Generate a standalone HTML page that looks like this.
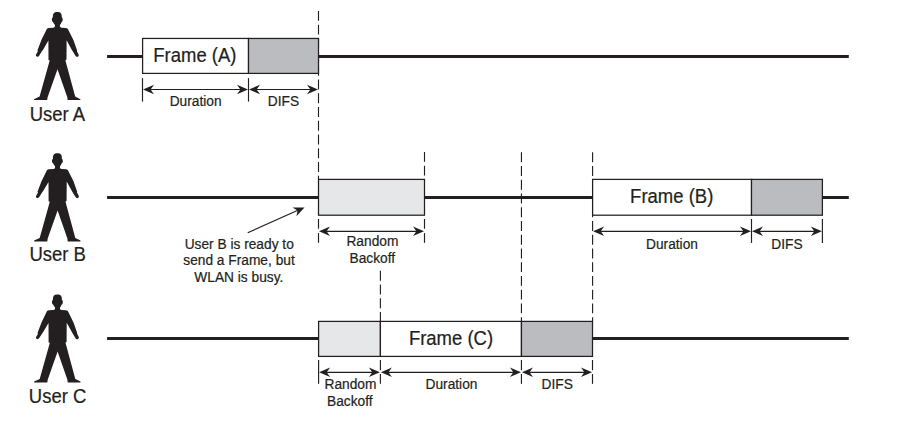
<!DOCTYPE html>
<html>
<head>
<meta charset="utf-8">
<title>CSMA/CA DCF timing</title>
<style>
html,body{margin:0;padding:0;background:#fff;}
body{width:905px;height:422px;overflow:hidden;font-family:"Liberation Sans",sans-serif;}
svg{display:block;}
text{font-family:"Liberation Sans",sans-serif;fill:#231f20;stroke:#231f20;stroke-width:0.2px;}
.big{font-size:18.5px;}
.sm{font-size:13.75px;}
.ln{stroke:#231f20;stroke-width:3;fill:none;}
.th{stroke:#231f20;stroke-width:1.15;fill:none;}
.ds{stroke:#231f20;stroke-width:1.12;fill:none;stroke-dasharray:9.9 3.84;}
.bx{stroke:#231f20;stroke-width:1.25;}
</style>
</head>
<body>
<svg width="905" height="422" viewBox="0 0 905 422">
<defs>
<path id="man" d="M57.3 12 C59 12 60.3 12.4 61 13.5 C61.7 14.5 61.8 16 61.8 17.6 C62.5 17.9 62.8 18.8 62.7 20 C62.6 21.2 62.2 21.8 61.6 22 C61.2 23.3 60.5 24.3 59.9 25 L59.9 26.6 C60.2 27.3 60.8 27.6 61.5 27.7 L66 27.9 C67 28 67.6 28.4 68 29.2 L73.4 40 L77.1 50.5 L76.9 51.2 L78.6 54.4 C79 55.4 78.6 56.4 77.6 56.8 C76.8 57.1 75.9 56.6 75.3 55.5 L72.9 51.6 L71.9 49.9 L66.6 40.3 L66.5 59.4 L65.4 60.4 L75.2 96.6 L80.4 99.2 L80.4 100.1 L67.6 100.1 L67.3 97.3 L57.5 69.2 L47.6 97.3 L47.2 100.1 L34 100.1 L34 99.2 L39.6 96.6 L49.7 60.5 L48.5 59.9 L48.4 40.6 L43.1 49.7 L41.9 51.3 L39.3 55.4 C38.7 56.5 37.8 57 37.1 56.8 C36.1 56.4 35.6 55.5 36 54.6 L37.9 51.3 L37.4 50.5 L41.4 40 L46.7 29.2 C47 28.4 47.7 28 48.6 27.9 L53.3 27.7 C54 27.6 54.6 27.3 54.9 26.6 L55 25 C54.3 24.3 53.5 23.3 53 22 C52.4 21.8 52 21.2 51.9 20 C51.8 18.8 52.1 17.9 52.8 17.6 C52.8 16 52.9 14.5 53.6 13.5 C54.3 12.4 55.6 12 57.3 12 Z" fill="#231f20"/>
<path id="ah" d="M0 0 L11 -4.8 L7.6 0 L11 4.8 Z" fill="#231f20"/>
</defs>

<use href="#man"/>
<use href="#man" x="0.1" y="141.3"/>
<use href="#man" x="0.1" y="282.4"/>
<text class="big" transform="translate(57.4 120.9) scale(1 1.05)" text-anchor="middle">User A</text>
<text class="big" transform="translate(57.7 260.9) scale(1 1.05)" text-anchor="middle">User B</text>
<text class="big" transform="translate(57.6 402.8) scale(1 1.05)" text-anchor="middle">User C</text>
<line class="ln" x1="107.1" y1="56.5" x2="848.8" y2="56.5"/>
<line class="ln" x1="107.1" y1="197.5" x2="848.8" y2="197.5"/>
<line class="ln" x1="107.1" y1="338.5" x2="848.8" y2="338.5"/>
<line class="ds" x1="318.5" y1="10.9" x2="318.5" y2="179.4"/>
<line class="ds" x1="424.5" y1="151.9" x2="424.5" y2="179.4"/>
<line class="ds" x1="521.45" y1="152.3" x2="521.45" y2="321.4"/>
<line class="ds" x1="592.6" y1="152.3" x2="592.6" y2="321.4"/>
<line class="ds" x1="380.4" y1="270.8" x2="380.4" y2="321.4"/>
<rect class="bx" x="142.6" y="38.45" width="105.9" height="34.95" fill="#fff"/>
<rect class="bx" x="248.5" y="38.45" width="70.0" height="34.95" fill="#bbbcc0"/>
<text class="big" transform="translate(194.9 61.5) scale(1 1.05)" text-anchor="middle">Frame (A)</text>
<rect class="bx" x="318.5" y="179.4" width="106.0" height="35.8" fill="#e6e7e8"/>
<rect class="bx" x="592.6" y="179.4" width="158.9" height="35.8" fill="#fff"/>
<rect class="bx" x="751.5" y="179.4" width="70.9" height="35.8" fill="#bbbcc0"/>
<text class="big" transform="translate(671.7 202.5) scale(1 1.05)" text-anchor="middle">Frame (B)</text>
<rect class="bx" x="318.6" y="321.4" width="61.8" height="35.0" fill="#e6e7e8"/>
<rect class="bx" x="380.4" y="321.4" width="141.05" height="35.0" fill="#fff"/>
<rect class="bx" x="521.45" y="321.4" width="71.05" height="35.0" fill="#bbbcc0"/>
<text class="big" transform="translate(451.0 344.5) scale(1 1.05)" text-anchor="middle">Frame (C)</text>
<line class="th" x1="142.5" y1="78.1" x2="142.5" y2="101.6"/>
<line class="th" x1="248.5" y1="78.1" x2="248.5" y2="101.6"/>
<line class="th" x1="147.0" y1="89.5" x2="244.0" y2="89.5"/>
<use href="#ah" x="143.0" y="89.5"/>
<use href="#ah" transform="translate(248.0 89.5) scale(-1 1)"/>
<line class="th" x1="253.0" y1="89.5" x2="314.0" y2="89.5"/>
<use href="#ah" x="249.0" y="89.5"/>
<use href="#ah" transform="translate(318.0 89.5) scale(-1 1)"/>
<text class="sm" transform="translate(195.6 106.1) scale(1 1.05)" text-anchor="middle">Duration</text>
<text class="sm" transform="translate(283.5 106.1) scale(1 1.05)" text-anchor="middle">DIFS</text>
<line class="th" x1="318.5" y1="219" x2="318.5" y2="228.7"/>
<line class="th" x1="318.5" y1="233.1" x2="318.5" y2="242.8"/>
<line class="th" x1="424.5" y1="219" x2="424.5" y2="228.7"/>
<line class="th" x1="424.5" y1="233.1" x2="424.5" y2="242.8"/>
<line class="th" x1="323.0" y1="231.3" x2="420.0" y2="231.3"/>
<use href="#ah" x="319.0" y="231.3"/>
<use href="#ah" transform="translate(424.0 231.3) scale(-1 1)"/>
<line class="th" x1="751.5" y1="219" x2="751.5" y2="242.9"/>
<line class="th" x1="822.4" y1="219" x2="822.4" y2="242.9"/>
<line class="th" x1="597.1" y1="231.3" x2="747.0" y2="231.3"/>
<use href="#ah" x="593.1" y="231.3"/>
<use href="#ah" transform="translate(751.0 231.3) scale(-1 1)"/>
<line class="th" x1="756.0" y1="231.3" x2="817.9" y2="231.3"/>
<use href="#ah" x="752.0" y="231.3"/>
<use href="#ah" transform="translate(821.9 231.3) scale(-1 1)"/>
<text class="sm" transform="translate(372.4 245.8) scale(1 1.05)" text-anchor="middle">Random</text>
<text class="sm" transform="translate(372.3 262.9) scale(1 1.05)" text-anchor="middle">Backoff</text>
<text class="sm" transform="translate(672.0 248.9) scale(1 1.05)" text-anchor="middle">Duration</text>
<text class="sm" transform="translate(787.0 248.9) scale(1 1.05)" text-anchor="middle">DIFS</text>
<text class="sm" transform="translate(239.2 248.6) scale(1 1.05)" text-anchor="middle">User B is ready to</text>
<text class="sm" transform="translate(239.0 265.3) scale(1 1.05)" text-anchor="middle">send a Frame, but</text>
<text class="sm" transform="translate(238.8 281.7) scale(1 1.05)" text-anchor="middle">WLAN is busy.</text>
<line class="th" x1="247.7" y1="232.8" x2="299" y2="209.85"/>
<use href="#ah" transform="translate(304.5 207.4) rotate(155.9)"/>
<line class="th" x1="318.6" y1="360" x2="318.6" y2="383.85"/>
<line class="th" x1="380.4" y1="360" x2="380.4" y2="370.3"/>
<line class="th" x1="380.4" y1="374" x2="380.4" y2="383.85"/>
<line class="th" x1="521.45" y1="360" x2="521.45" y2="370.3"/>
<line class="th" x1="521.45" y1="374" x2="521.45" y2="383.85"/>
<line class="th" x1="592.5" y1="360" x2="592.5" y2="370.3"/>
<line class="th" x1="592.5" y1="374" x2="592.5" y2="383.85"/>
<line class="th" x1="323.1" y1="372.3" x2="375.9" y2="372.3"/>
<use href="#ah" x="319.1" y="372.3"/>
<use href="#ah" transform="translate(379.9 372.3) scale(-1 1)"/>
<line class="th" x1="384.9" y1="372.3" x2="516.95" y2="372.3"/>
<use href="#ah" x="380.9" y="372.3"/>
<use href="#ah" transform="translate(520.95 372.3) scale(-1 1)"/>
<line class="th" x1="525.95" y1="372.3" x2="588.0" y2="372.3"/>
<use href="#ah" x="521.95" y="372.3"/>
<use href="#ah" transform="translate(592.0 372.3) scale(-1 1)"/>
<text class="sm" transform="translate(350.5 388.9) scale(1 1.05)" text-anchor="middle">Random</text>
<text class="sm" transform="translate(349.8 405.8) scale(1 1.05)" text-anchor="middle">Backoff</text>
<text class="sm" transform="translate(451.5 388.9) scale(1 1.05)" text-anchor="middle">Duration</text>
<text class="sm" transform="translate(557.2 389.0) scale(1 1.05)" text-anchor="middle">DIFS</text>
</svg>
</body>
</html>
